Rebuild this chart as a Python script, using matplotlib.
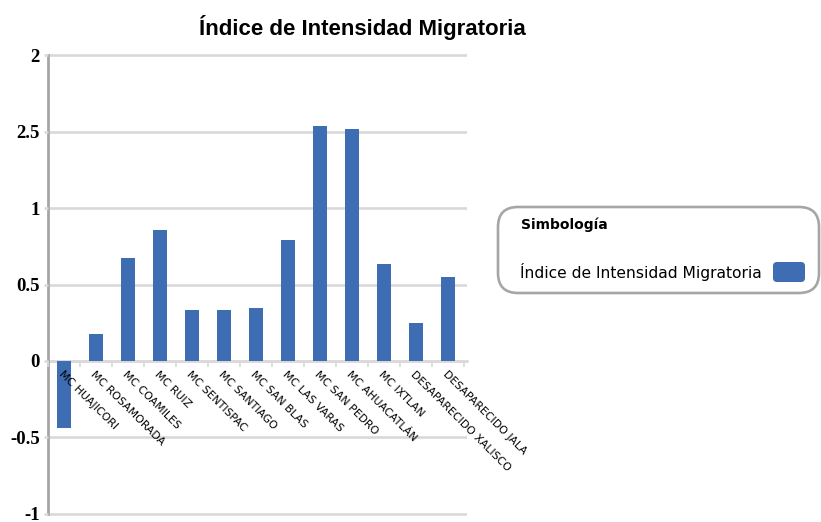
import matplotlib
matplotlib.use("Agg")
import matplotlib.pyplot as plt
import matplotlib.patches as mpatches
import matplotlib.transforms as mtransforms

# ─── Datos ───────────────────────────────────────────────────────────────────
categorias = [
    "MC HUAJICORI", "MC ROSAMORADA", "MC COAMILES", "MC RUIZ",
    "MC SENTISPAC", "MC SANTIAGO", "MC SAN BLAS", "MC LAS VARAS",
    "MC SAN PEDRO", "MC AHUACATLÁN", "MC IXTLAN",
    "DESAPARECIDO XALISCO", "DESAPARECIDO JALA",
]
indice = [-0.436, 0.177, 0.675, 0.857, 0.332, 0.332, 0.345, 0.792,
          1.536, 1.516, 0.636, 0.248, 0.546]

yticks = [-1, -0.5, 0, 0.5, 1, 1.5, 2]
ytick_labels = ["-1", "-0.5", "0", "0.5", "1", "2.5", "2"]

titulo = "Índice de Intensidad Migratoria"
serie = "Índice de Intensidad Migratoria"

BAR = "#3f6db4"
GRID = "#d9d9d9"
AXIS = "#a6a6a6"
CAT_FONT = "DejaVu Sans"

W, H = 821, 522
fig = plt.figure(figsize=(W / 100, H / 100), dpi=100)
fig.patch.set_facecolor("white")

# ejes en pixeles: x 48 -> 467, y -1 en 514, 2 en 55
ax = fig.add_axes([48 / W, (H - 517) / H, 419 / W, 465 / H])
ax.set_xlim(-0.5, 12.6)
ax.set_ylim(-1.02, 2.02)
ax.set_axisbelow(False)  # etiquetas del eje encima de las barras

# rejilla detras de las barras
for yv in yticks:
    ax.axhline(yv, color=GRID, linewidth=1.9, zorder=0)

x = list(range(len(categorias)))
ax.bar(x, indice, width=0.45, color=BAR, zorder=2)

ax.set_yticks(yticks)
ax.set_yticklabels(ytick_labels, fontfamily="Liberation Serif",
                   fontweight="bold", fontsize=13.5)
ax.tick_params(axis="y", length=3, width=1.8, color=GRID, pad=3)

for s in ["top", "right"]:
    ax.spines[s].set_visible(False)
ax.spines["left"].set_color(AXIS)
ax.spines["left"].set_linewidth(2.0)
ax.spines["left"].set_bounds(-1, 2)
ax.spines["bottom"].set_position(("data", 0))
ax.spines["bottom"].set_color(GRID)
ax.spines["bottom"].set_linewidth(1.9)
ax.spines["bottom"].set_zorder(1)

# eje x: etiquetas rotadas y marcas entre categorias
ax.set_xticks(x)
ax.set_xticklabels(categorias, rotation=-45, ha="left", va="top",
                   rotation_mode="anchor", fontfamily=CAT_FONT, fontsize=7.8)
ax.tick_params(axis="x", which="major", length=0, pad=6)
ax.set_xticks([i + 0.5 for i in range(-1, 13)], minor=True)
ax.tick_params(axis="x", which="minor", length=4, width=1.2, color=GRID)

# titulo
fig.text(362.5 / W, 1 - 27 / H, titulo, ha="center", va="center",
         fontfamily="Liberation Sans", fontweight="bold", fontsize=16)

# leyenda (cuadro redondeado en pixeles)
ident = mtransforms.IdentityTransform()
caja = mpatches.FancyBboxPatch((498, H - 293), 321, 86,
                               boxstyle="round,pad=0,rounding_size=20",
                               facecolor="white", edgecolor=AXIS,
                               linewidth=1.9, transform=ident)
fig.patches.append(caja)
fig.text(521 / W, 1 - 225 / H, "Simbología", ha="left", va="center",
         fontfamily=CAT_FONT, fontweight="bold", fontsize=10)
fig.text(520 / W, 1 - 272 / H, serie, ha="left", va="center",
         fontfamily=CAT_FONT, fontsize=11.2)
muestra = mpatches.FancyBboxPatch((773, H - 282), 32, 20,
                                  boxstyle="round,pad=0,rounding_size=4",
                                  facecolor=BAR, edgecolor="none",
                                  transform=ident)
fig.patches.append(muestra)

plt.savefig("out.png", dpi=100, facecolor="white")
